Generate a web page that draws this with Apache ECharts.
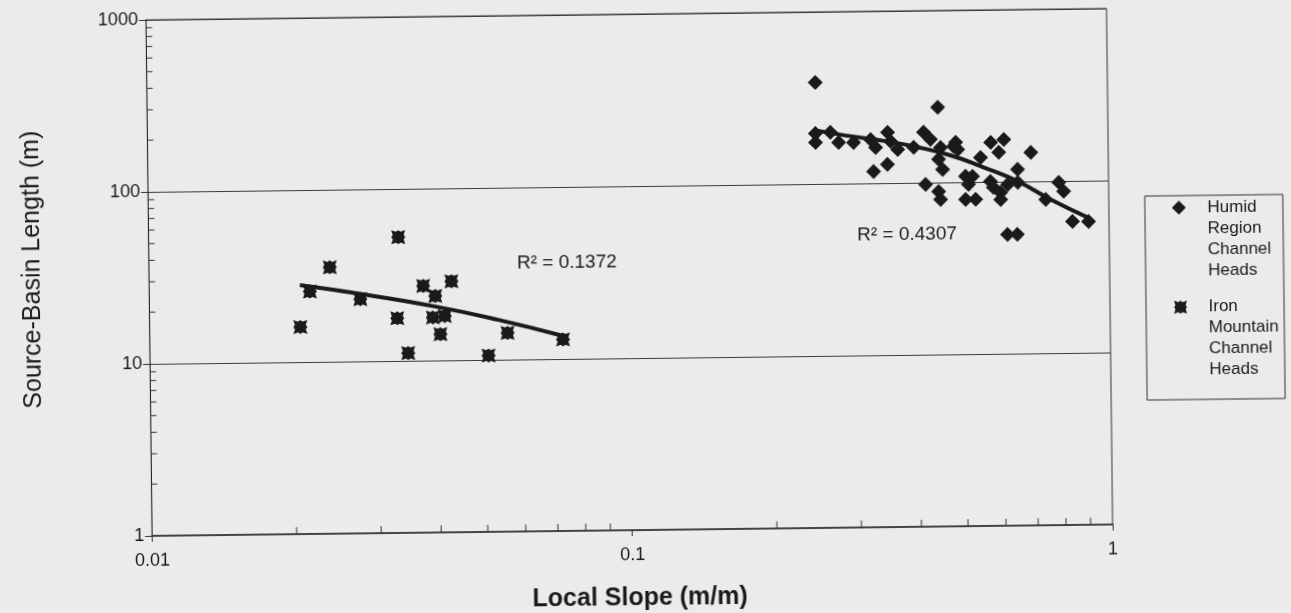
<!DOCTYPE html>
<html>
<head>
<meta charset="utf-8">
<script src="https://cdn.jsdelivr.net/npm/echarts@6/dist/echarts.min.js"></script>
<style>
html,body{margin:0;padding:0;background:#ebebeb;overflow:hidden;}
#chart{width:1291px;height:613px;transform:rotate(-0.68deg);transform-origin:645.5px 306.5px;}
</style>
</head>
<body>
<div id="chart"></div>
<script>
// ---- data ----
const seriesNames = ['Humid Region Channel Heads', 'Iron Mountain Channel Heads'];
const humidSlope = [0.2465,0.4427,0.246,0.246,0.2642,0.2748,0.2952,0.3204,0.328,0.3477,0.3526,0.3646,0.3937,0.3244,0.3468,0.413,0.4267,0.4766,0.4478,0.4815,0.4862,0.4433,0.4518,0.542,0.5696,0.6067,0.5918,0.690,0.647,0.416,0.4427,0.4467,0.504,0.521,0.511,0.5035,0.5284,0.5676,0.5755,0.5957,0.5957,0.6165,0.647,0.7394,0.7877,0.806,0.8395,0.9067,0.6144,0.644];
const humidLength = [389,273.5,196.8,174.2,199,173.8,173.4,179.9,161.4,197.2,174.6,156.7,160.6,117.2,128.5,196.4,178.3,161.8,159.9,170.6,155.2,136.5,119.1,138.9,169.8,176.2,148.3,147.2,117.8,97.8,88.7,79.6,108.2,107.9,97.0,79.4,79.3,100.7,92.9,86.7,78.9,96.4,98.9,78.3,98.2,87.1,58.2,57.9,49.4,49.3];
const ironSlope = [0.0331,0.0238,0.0216,0.0275,0.0206,0.0328,0.0372,0.0426,0.0394,0.0389,0.0412,0.0403,0.0345,0.0507,0.0556,0.0725];
const ironLength = [52.4,35.4,25.7,23.0,16.0,17.7,27.2,28.8,23.7,17.8,18.1,14.2,11.1,10.6,14.3,13.0];
const humidTrendSlope = [0.246,0.284,0.3475,0.3937,0.4696,0.5495,0.647,0.7565,0.9024];
const humidTrendLength = [205,190.5,174.6,162.9,143.6,121.6,100.3,78.3,61.2];
const ironTrendSlope = [0.0206,0.0279,0.039,0.053,0.0726];
const ironTrendLength = [28.0,24.5,20.7,17.1,13.6];
const r2Texts = ['R\u00B2 = 0.1372', 'R\u00B2 = 0.4307'];
const xTickLabels = ['0.01','0.1','1'];
const yTickLabels = ['1','10','100','1000'];
const xMinorTicks = [0.02,0.03,0.04,0.05,0.06,0.07,0.08,0.09,0.2,0.3,0.4,0.5,0.6,0.7,0.8,0.9];
const yMinorTicks = [2,3,4,5,6,7,8,9,20,30,40,50,60,70,80,90,200,300,400,500,600,700,800,900];
const legendLines = [['Humid','Region','Channel','Heads'], ['Iron','Mountain','Channel','Heads']];

const FONT = "'Liberation Sans', Arial, sans-serif";
const INK = '#1a1a1a';
// marker outline templates (unit box 0..100)
const STAR_TEMPLATE = [[100,50],[88.8,66.1],[100,100],[66.1,88.8],[50,100],[33.9,88.8],[0,100],[11.2,66.1],[0,50],[11.2,33.9],[0,0],[33.9,11.2],[50,0],[66.1,11.2],[100,0],[88.8,33.9]];
const DIAMOND_TEMPLATE = [[50,0],[100,50],[50,100],[0,50]];
const toPath = t => 'path://' + t.map((p, i) => (i ? 'L' : 'M') + p[0] + ',' + p[1]).join(' ') + ' Z';
const placeIcon = (t, cx, cy, size) => t.map(p => [cx + (p[0] - 50) * size / 100, cy + (p[1] - 50) * size / 100]);

const zip = (a, b) => a.map((v, i) => [v, b[i]]);
const findLabel = (labels, v) => labels.find(l => Math.abs(Math.log10(+l) - Math.log10(v)) < 1e-6) || '';

const chart = echarts.init(document.getElementById('chart'), null, {renderer: 'canvas'});
chart.setOption({
  animation: false,
  backgroundColor: 'transparent',
  grid: {
    left: 149.4, right: 181, top: 14, bottom: 83,
    show: true, borderColor: '#333', borderWidth: 1, backgroundColor: 'transparent',
    containLabel: false, outerBoundsMode: 'none'
  },
  xAxis: {
    type: 'log', logBase: 10, min: 0.01, max: 1,
    name: 'Local Slope (m/m)', nameLocation: 'middle', nameGap: 56,
    nameTextStyle: {fontFamily: FONT, fontSize: 25, fontWeight: 'bold', color: INK, padding: [0,0,0,14]},
    axisLine: {show: true, onZero: false, lineStyle: {color: '#444', width: 2}},
    axisTick: {show: true, inside: false, length: 6, lineStyle: {color: '#333'}},
    splitLine: {show: false},
    axisLabel: {fontFamily: FONT, fontSize: 18, color: INK, margin: 16,
      formatter: v => findLabel(xTickLabels, v)}
  },
  yAxis: {
    type: 'log', logBase: 10, min: 1, max: 1000,
    name: 'Source-Basin Length (m)', nameLocation: 'middle', nameGap: 104,
    nameTextStyle: {fontFamily: FONT, fontSize: 25, color: INK, padding: [0,0,0,19]},
    axisLine: {show: true, lineStyle: {color: '#222', width: 1}},
    axisTick: {show: true, inside: false, length: 7, lineStyle: {color: '#333'}},
    splitLine: {show: true, lineStyle: {color: '#3a3a3a', width: 1}},
    axisLabel: {fontFamily: FONT, fontSize: 18, color: INK, margin: 8,
      formatter: v => findLabel(yTickLabels, v)}
  },
  series: [
    {
      type: 'custom', name: 'xMinor', silent: true, z: 3,
      data: xMinorTicks.map(v => [v, 1]),
      encode: {x: 0, y: 1},
      renderItem: (params, api) => {
        const p = api.coord([api.value(0), api.value(1)]);
        return {type: 'line', shape: {x1: p[0], y1: p[1], x2: p[0], y2: p[1] - 7}, style: {stroke: '#333', lineWidth: 1}};
      }
    },
    {
      type: 'custom', name: 'yMinor', silent: true, z: 3,
      data: yMinorTicks.map(v => [0.01, v]),
      encode: {x: 0, y: 1},
      renderItem: (params, api) => {
        const p = api.coord([api.value(0), api.value(1)]);
        return {type: 'line', shape: {x1: p[0], y1: p[1], x2: p[0] + 6, y2: p[1]}, style: {stroke: '#333', lineWidth: 1}};
      }
    },
    {
      name: seriesNames[0], type: 'scatter', symbol: 'diamond', symbolSize: 15,
      itemStyle: {color: INK, opacity: 1}, data: zip(humidSlope, humidLength), z: 4
    },
    {
      name: seriesNames[1], type: 'scatter', symbol: toPath(STAR_TEMPLATE), symbolSize: 14,
      itemStyle: {color: INK, opacity: 1}, data: zip(ironSlope, ironLength), z: 4
    },
    {
      name: 'Humid trend', type: 'line', smooth: true, symbol: 'none', silent: true, z: 5,
      lineStyle: {color: INK, width: 4}, data: zip(humidTrendSlope, humidTrendLength)
    },
    {
      name: 'Iron trend', type: 'line', smooth: true, symbol: 'none', silent: true, z: 5,
      lineStyle: {color: INK, width: 4}, data: zip(ironTrendSlope, ironTrendLength)
    }
  ],
  graphic: [
    {type: 'text', x: 517.5, y: 261.5, z: 10,
      style: {text: r2Texts[0], fontFamily: FONT, fontSize: 19, fill: INK, verticalAlign: 'middle'}},
    {type: 'text', x: 858, y: 237.5, z: 10,
      style: {text: r2Texts[1], fontFamily: FONT, fontSize: 19, fill: INK, verticalAlign: 'middle'}},
    {type: 'rect', z: 10, shape: {x: 1146, y: 202, width: 138, height: 204},
      style: {fill: 'none', stroke: '#333', lineWidth: 1}},
    {type: 'polygon', z: 10, shape: {points: placeIcon(DIAMOND_TEMPLATE, 1180, 214, 14)},
      style: {fill: INK}},
    {type: 'polygon', z: 10, shape: {points: placeIcon(STAR_TEMPLATE, 1180.5, 313.5, 13)},
      style: {fill: INK}},
    {type: 'text', x: 1208.5, y: 203.5, z: 10,
      style: {text: legendLines[0].join('\n'), fontFamily: FONT, fontSize: 17, lineHeight: 21, fill: INK, verticalAlign: 'top'}},
    {type: 'text', x: 1208.5, y: 303, z: 10,
      style: {text: legendLines[1].join('\n'), fontFamily: FONT, fontSize: 17, lineHeight: 21, fill: INK, verticalAlign: 'top'}}
  ]
});
</script>
</body>
</html>
